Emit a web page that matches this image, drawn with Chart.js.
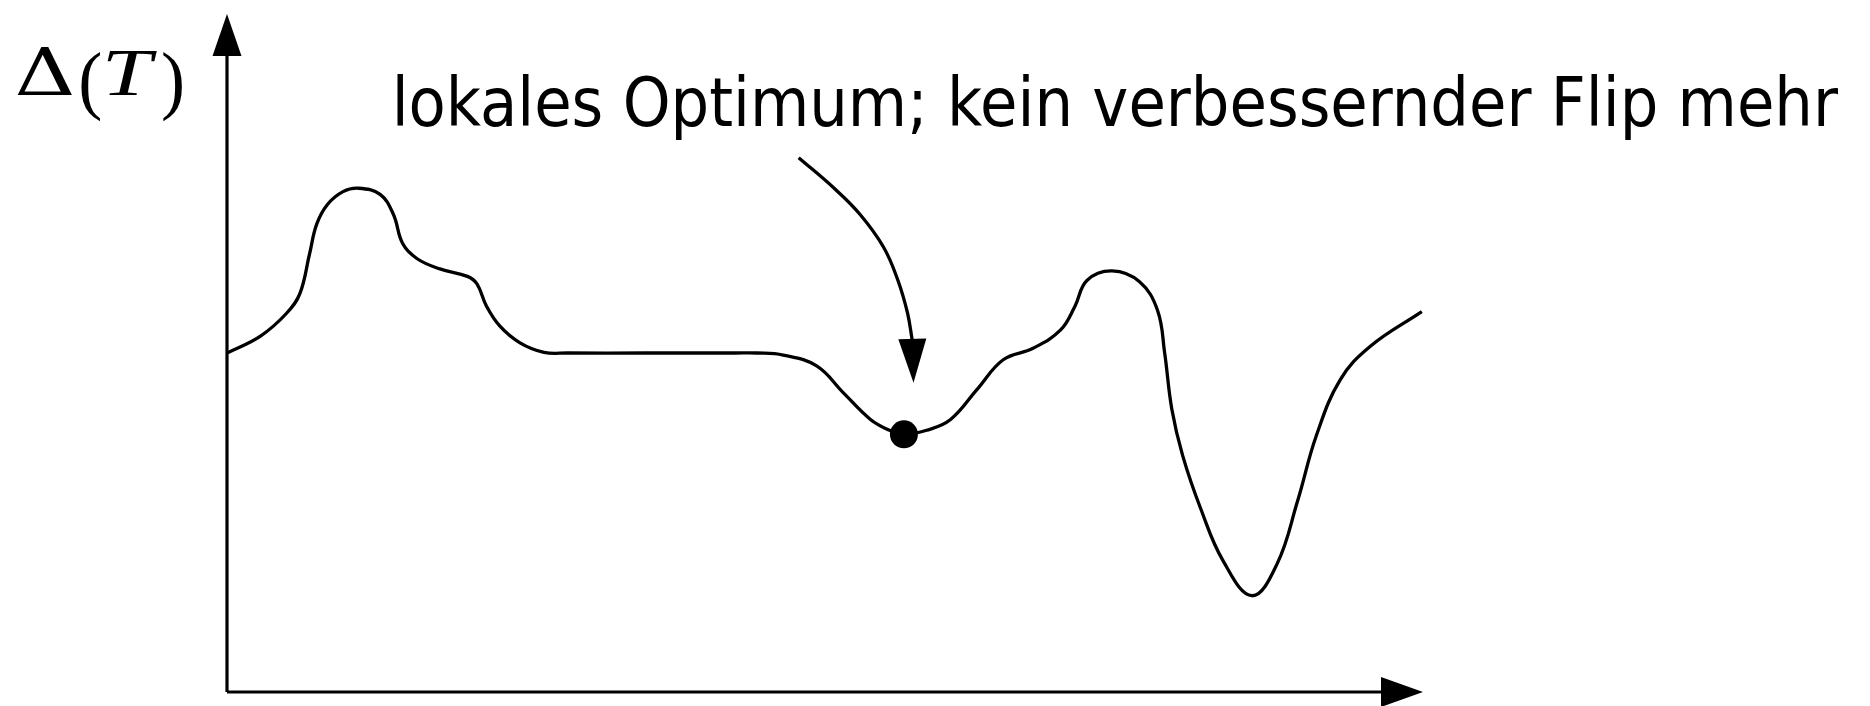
<!DOCTYPE html>
<html>
<head>
<meta charset="utf-8">
<script src="https://cdn.jsdelivr.net/npm/chart.js@4.4.1/dist/chart.umd.min.js"></script>
<style>
  html, body { margin: 0; padding: 0; background: #fff; }
  #wrap { width: 1870px; height: 706px; }
</style>
</head>
<body>
<div id="wrap"><canvas id="c"></canvas></div>
<script>
// landscape curve Δ(T) over the search space (axis units 0..100)
const curveX = [0, 2.8, 5.0, 6.1, 6.9, 7.5, 8.4, 9.7, 11.0, 12.8, 13.9, 14.7, 15.9, 17.8, 20.1, 20.9, 21.7, 22.8, 24.5, 26.5,
  28.5, 35.0, 42.5, 44.3, 46.5, 49.3, 51.5, 53.8, 55.4, 56.6, 58.5, 60.5, 62.7, 64.9, 67.4, 69.7, 70.9, 71.9, 74.0,
  76.3, 77.8, 78.4, 79.0, 79.9, 81.4, 83.3, 85.7, 87.8, 89.5, 91.1, 93.1, 95.6, 99.9];
const curveY = [50.0, 52.5, 55.9, 58.8, 64.6, 69.0, 71.9, 73.8, 74.3, 73.4, 70.5, 66.1, 63.9, 62.4, 61.3, 60.2, 56.9, 54.0, 51.5, 50.1,
  50.0, 50.0, 50.0, 50.0, 49.7, 48.1, 44.2, 40.2, 38.6, 38.0, 38.6, 40.2, 44.6, 49.0, 50.7, 53.4, 56.9, 60.7, 62.1,
  60.5, 56.3, 50.0, 41.7, 34.9, 27.1, 19.3, 14.2, 18.9, 28.1, 37.9, 46.1, 51.0, 56.1];

// the local optimum marked with a dot
const optX = [56.6];
const optY = [38.0];

// annotation arrow from the caption down to the optimum
const arrowX = [47.8, 50.7, 52.9, 54.9, 56.1, 56.9, 57.3];
const arrowY = [78.8, 74.4, 70.5, 65.6, 60.7, 55.9, 51.8];
const arrowTip = { x: 57.4, y: 45.6 };

const caption = "lokales Optimum; kein verbessernder Flip mehr";

const toPts = (xs, ys) => xs.map((x, i) => ({ x: x, y: ys[i] }));

function arrowHead(ctx, tx, ty, bx, by, halfW) {
  const dx = tx - bx, dy = ty - by;
  const len = Math.hypot(dx, dy);
  const nx = -dy / len, ny = dx / len;
  ctx.beginPath();
  ctx.moveTo(tx, ty);
  ctx.lineTo(bx + nx * halfW, by + ny * halfW);
  ctx.lineTo(bx - nx * halfW, by - ny * halfW);
  ctx.closePath();
  ctx.fill();
}

// draw text so that its ink spans the given width
function fitText(ctx, txt, x, y, width) {
  const m = ctx.measureText(txt);
  const inkW = m.actualBoundingBoxLeft + m.actualBoundingBoxRight;
  ctx.save();
  ctx.translate(x, y);
  ctx.scale(width / inkW, 1);
  ctx.fillText(txt, m.actualBoundingBoxLeft, 0);
  ctx.restore();
}

const decor = {
  id: "decor",
  afterDraw(chart) {
    const ctx = chart.ctx;
    const a = chart.chartArea;
    const xs = chart.scales.x, ys = chart.scales.y;
    ctx.save();
    ctx.fillStyle = "#000";
    ctx.strokeStyle = "#000";
    ctx.lineWidth = 3.2;

    // axes
    ctx.beginPath();
    ctx.moveTo(a.left, a.bottom);
    ctx.lineTo(a.left, a.top + 30);
    ctx.moveTo(a.left, a.bottom);
    ctx.lineTo(a.right - 30, a.bottom);
    ctx.stroke();
    arrowHead(ctx, a.left, a.top, a.left, a.top + 42, 14.5);
    arrowHead(ctx, a.right, a.bottom, a.right - 42, a.bottom, 15);

    // head of the annotation arrow
    const last = arrowX.length - 1;
    arrowHead(ctx,
      xs.getPixelForValue(arrowTip.x), ys.getPixelForValue(arrowTip.y),
      xs.getPixelForValue(arrowX[last]), ys.getPixelForValue(arrowY[last]) - 2, 14);

    // caption
    ctx.textBaseline = "alphabetic";
    ctx.textAlign = "left";
    ctx.font = "68px 'DejaVu Sans'";
    fitText(ctx, caption, 397, 126, 1441);

    // y-axis label Δ(T)
    ctx.font = "66px 'DejaVu Serif'";
    fitText(ctx, "\u0394", 17, 95, 55);
    ctx.font = "76px 'Liberation Serif'";
    fitText(ctx, "(", 81, 105, 19);
    fitText(ctx, ")", 163, 105, 19);
    ctx.font = "italic 68px 'Liberation Serif'";
    fitText(ctx, "T", 107, 95, 50);
    ctx.restore();
  }
};

new Chart(document.getElementById("c"), {
  type: "line",
  data: {
    datasets: [
      {
        data: toPts(curveX, curveY),
        borderColor: "#000",
        borderWidth: 3.3,
        pointRadius: 0,
        tension: 0.4,
        fill: false
      },
      {
        data: toPts(arrowX, arrowY),
        borderColor: "#000",
        borderWidth: 3.3,
        pointRadius: 0,
        tension: 0.4,
        fill: false
      },
      {
        data: toPts(optX, optY),
        showLine: false,
        pointRadius: 14,
        pointBackgroundColor: "#000",
        pointBorderColor: "#000",
        pointBorderWidth: 0
      }
    ]
  },
  options: {
    responsive: true,
    maintainAspectRatio: false,
    animation: false,
    layout: { padding: { left: 227, right: 447, top: 8, bottom: 14 } },
    plugins: { legend: { display: false }, tooltip: { enabled: false } },
    scales: {
      x: { type: "linear", min: 0, max: 100, display: false },
      y: { type: "linear", min: 0, max: 100, display: false }
    }
  },
  plugins: [decor]
});
</script>
</body>
</html>
